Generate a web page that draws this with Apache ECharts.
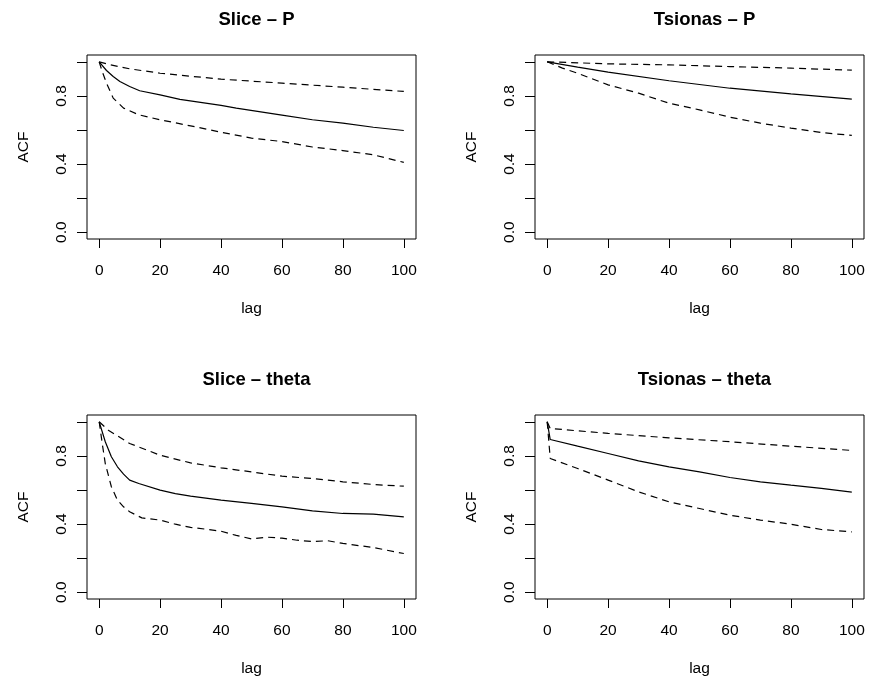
<!DOCTYPE html>
<html>
<head>
<meta charset="utf-8">
<script src="https://cdn.jsdelivr.net/npm/echarts@6/dist/echarts.min.js"></script>
<style>
    html, body { margin: 0; padding: 0; background: #fff; }
    #chart { width: 869px; height: 680px; }
</style>
</head>
<body>
<div id="chart"></div>
<script>
// values, lag -> ACF
const panelTitles = ["Slice \u2013 P", "Tsionas \u2013 P", "Slice \u2013 theta", "Tsionas \u2013 theta"];
const xTicks = [0, 20, 40, 60, 80, 100];
const yTicks = [0, 0.2, 0.4, 0.6, 0.8, 1.0];
const yLabels = [0, 0.4, 0.8];

// Slice - P
const sliceP_mid = [[0, 1.0], [2.4, 0.949], [4.6, 0.914], [6.8, 0.885], [10, 0.855], [13.3, 0.83], [20, 0.806], [26.5, 0.78], [40, 0.744], [45, 0.728], [60, 0.687], [70, 0.66], [80, 0.64], [90, 0.616], [100, 0.597]];
const sliceP_up = [[0, 1.0], [3, 0.985], [10, 0.959], [20, 0.933], [40, 0.898], [60, 0.875], [80, 0.851], [100, 0.826]];
const sliceP_lo = [[0, 1.0], [1, 0.943], [2.4, 0.875], [4.6, 0.787], [8, 0.728], [13, 0.689], [20, 0.66], [30, 0.624], [40, 0.587], [50, 0.552], [60, 0.532], [70, 0.5], [80, 0.479], [90, 0.454], [100, 0.41]];

// Tsionas - P
const tsP_mid = [[0, 1.0], [10, 0.969], [20, 0.939], [40, 0.889], [60, 0.845], [80, 0.812], [100, 0.781]];
const tsP_up = [[0, 1.0], [20, 0.988], [40, 0.982], [60, 0.972], [80, 0.963], [100, 0.951]];
const tsP_lo = [[0, 1.0], [5, 0.963], [10, 0.933], [20, 0.865], [30, 0.816], [40, 0.757], [50, 0.718], [60, 0.675], [70, 0.64], [80, 0.611], [90, 0.585], [100, 0.568]];

// Slice - theta
const sliceT_mid = [[0, 1.0], [2, 0.883], [4, 0.795], [6, 0.736], [8, 0.693], [10, 0.658], [13, 0.638], [20, 0.599], [25, 0.579], [30, 0.564], [40, 0.54], [50, 0.521], [60, 0.501], [70, 0.477], [80, 0.462], [90, 0.458], [100, 0.442]];
const sliceT_up = [[0, 1.0], [3, 0.951], [10, 0.873], [20, 0.804], [30, 0.759], [40, 0.73], [50, 0.706], [60, 0.681], [70, 0.667], [80, 0.648], [90, 0.632], [100, 0.622]];
const sliceT_lo = [[0, 1.0], [1, 0.873], [2, 0.755], [4, 0.619], [6, 0.54], [8, 0.501], [10, 0.472], [14, 0.436], [20, 0.423], [25, 0.399], [30, 0.38], [35, 0.37], [40, 0.358], [45, 0.333], [50, 0.313], [55, 0.323], [60, 0.317], [65, 0.305], [70, 0.297], [75, 0.302], [80, 0.286], [90, 0.262], [100, 0.227]];

// Tsionas - theta
const tsT_mid = [[0, 1.0], [1, 0.896], [10, 0.857], [20, 0.814], [30, 0.771], [40, 0.736], [50, 0.706], [60, 0.673], [70, 0.648], [80, 0.628], [90, 0.609], [100, 0.587]];
const tsT_up = [[0, 1.0], [1, 0.961], [20, 0.932], [40, 0.906], [60, 0.883], [80, 0.857], [100, 0.832]];
const tsT_lo = [[0, 1.0], [1, 0.785], [10, 0.726], [20, 0.658], [30, 0.589], [40, 0.53], [50, 0.491], [60, 0.452], [70, 0.423], [80, 0.399], [90, 0.368], [100, 0.354]];

const panelData = [
    [sliceP_mid, sliceP_up, sliceP_lo],
    [tsP_mid, tsP_up, tsP_lo],
    [sliceT_mid, sliceT_up, sliceT_lo],
    [tsT_mid, tsT_up, tsT_lo]
];

const font = "'Liberation Sans', Arial, Helvetica, sans-serif";
const boxes = [
    {left: 87, top: 55},
    {left: 535, top: 55},
    {left: 87, top: 415},
    {left: 535, top: 415}
];
const boxW = 329, boxH = 184;

let grids = [], xAxes = [], yAxes = [], titles = [], series = [];

boxes.forEach(function (b, i) {
    grids.push({
        left: b.left, top: b.top, width: boxW, height: boxH,
        show: true, borderColor: "#000", borderWidth: 1, backgroundColor: "transparent"
    });
    titles.push({
        text: panelTitles[i],
        left: b.left + boxW / 2,
        top: b.top - 50,
        textAlign: "center",
        textStyle: {fontFamily: font, fontSize: 18.5, fontWeight: "bold", color: "#000"}
    });
    xAxes.push({
        gridIndex: i, type: "value", min: -4, max: 104,
        name: "lag", nameLocation: "middle", nameGap: 62,
        nameTextStyle: {fontFamily: font, fontSize: 15.5, color: "#000"},
        axisLine: {show: false, onZero: false},
        splitLine: {show: false},
        axisTick: {show: true, length: 9, customValues: xTicks, lineStyle: {color: "#000"}},
        axisLabel: {customValues: xTicks, margin: 24, fontFamily: font, fontSize: 15.5, color: "#000"}
    });
    yAxes.push({
        gridIndex: i, type: "value", min: -0.04, max: 1.04,
        name: "ACF", nameLocation: "middle", nameGap: 55, nameRotate: 90,
        nameTextStyle: {fontFamily: font, fontSize: 15.5, color: "#000"},
        axisLine: {show: false, onZero: false},
        splitLine: {show: false},
        axisTick: {show: true, length: 10, customValues: yTicks, lineStyle: {color: "#000"}},
        axisLabel: {
            customValues: yLabels, rotate: 90, margin: 17,
            fontFamily: font, fontSize: 15.5, color: "#000",
            formatter: function (v) { return v.toFixed(1); }
        }
    });
    panelData[i].forEach(function (d, k) {
        series.push({
            type: "line", xAxisIndex: i, yAxisIndex: i,
            data: d, showSymbol: false, silent: true, animation: false,
            lineStyle: {color: "#000", width: 1.2, type: k === 0 ? "solid" : [7, 5]}
        });
    });
});

const chart = echarts.init(document.getElementById("chart"));
chart.setOption({
    backgroundColor: "#fff",
    animation: false,
    title: titles,
    grid: grids,
    xAxis: xAxes,
    yAxis: yAxes,
    series: series
});
</script>
</body>
</html>
